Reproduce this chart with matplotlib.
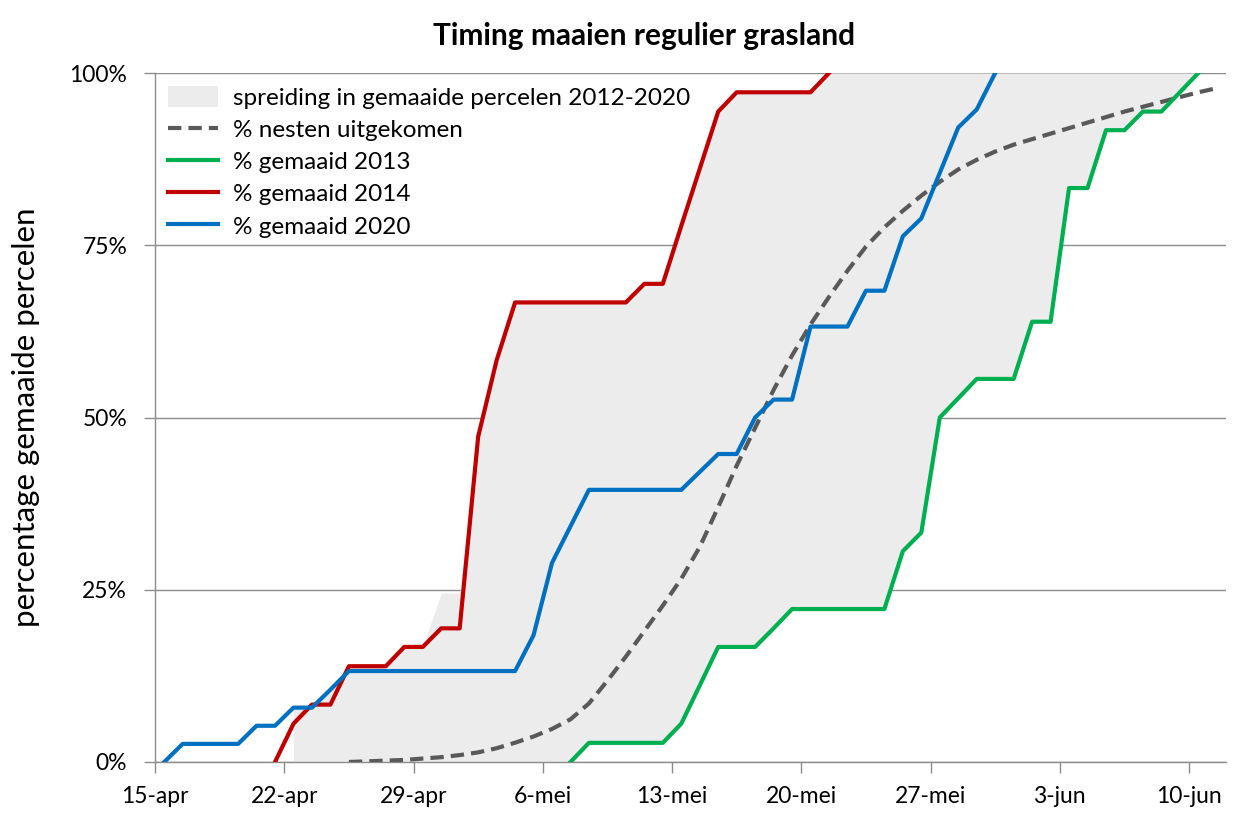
import matplotlib
matplotlib.use("Agg")
import matplotlib.pyplot as plt
import numpy as np
from matplotlib.patches import Patch
from matplotlib.lines import Line2D

plt.rcParams['font.family'] = ['Lato', 'DejaVu Sans']

# ---- data (day index k = days since 15-apr) ----
tick_days = [0, 7, 14, 21, 28, 35, 42, 49, 56]
tick_labels = ["15-apr", "22-apr", "29-apr", "6-mei", "13-mei", "20-mei", "27-mei", "3-jun", "10-jun"]

nest_days = list(range(10, 58))
nest_pct = [0, 0.1, 0.2, 0.3, 0.5, 0.7, 1.0, 1.4, 2.0, 2.8, 3.7, 4.8, 6.2, 8.5, 11.8, 15.3,
            19.0, 22.7, 26.6, 31.2, 37.0, 43.0, 48.5, 54.0, 59.0, 63.5, 67.5, 71.3, 74.8,
            77.6, 80.0, 82.2, 84.2, 86.0, 87.4, 88.6, 89.6, 90.4, 91.2, 92.0, 92.8, 93.6,
            94.4, 95.1, 95.8, 96.5, 97.2, 97.8]

g2013_days = list(range(22, 57))
g2013_pct = [0, 2.78, 2.78, 2.78, 2.78, 2.78, 5.56, 11.1, 16.7, 16.7, 16.7, 19.4, 22.2,
             22.2, 22.2, 22.2, 22.2, 22.2, 30.6, 33.3, 50.0, 52.8, 55.6, 55.6, 55.6, 63.9,
             63.9, 83.3, 83.3, 91.7, 91.7, 94.4, 94.4, 97.2, 100.0]

g2014_days = list(range(6, 37))
g2014_pct = [0, 5.56, 8.33, 8.33, 13.9, 13.9, 13.9, 16.7, 16.7, 19.4, 19.4, 47.2, 58.3,
             66.7, 66.7, 66.7, 66.7, 66.7, 66.7, 66.7, 69.4, 69.4, 77.8, 86.1, 94.4, 97.2,
             97.2, 97.2, 97.2, 97.2, 100.0]

g2020_days = list(range(0, 46))
g2020_pct = [0, 2.63, 2.63, 2.63, 2.63, 5.26, 5.26, 7.89, 7.89, 10.5, 13.2, 13.2, 13.2,
             13.2, 13.2, 13.2, 13.2, 13.2, 13.2, 13.2, 18.4, 28.9, 34.2, 39.5, 39.5, 39.5,
             39.5, 39.5, 39.5, 42.1, 44.7, 44.7, 50.0, 52.6, 52.6, 63.2, 63.2, 63.2, 68.4,
             68.4, 76.3, 78.9, 85.5, 92.1, 94.7, 100.0]

band_days = list(range(7, 58))
band_upper = [7.9, 8.3, 10.5, 13.9, 13.9, 13.9, 16.7, 16.7, 24.5, 24.5, 47.2, 58.3, 66.7,
              66.7, 66.7, 66.7, 66.7, 66.7, 66.7, 69.4, 69.4, 77.8, 86.1, 94.4, 97.2, 97.2,
              97.2, 97.2, 97.2, 100, 100, 100, 100, 100, 100, 100, 100, 100, 100, 100, 100,
              100, 100, 100, 100, 100, 100, 100, 100, 100, 100]
band_lower = [0, 0, 0, 0, 0, 0, 0, 0, 0, 0, 0, 0, 0, 0, 0, 0,
              2.78, 2.78, 2.78, 2.78, 2.78, 5.56, 11.1, 16.7, 16.7, 16.7, 19.4, 22.2,
              22.2, 22.2, 22.2, 22.2, 22.2, 30.6, 33.3, 50.0, 52.8, 55.6, 55.6, 55.6, 63.9,
              63.9, 83.3, 83.3, 91.7, 91.7, 94.4, 94.4, 97.2, 100.0, 100.0]

labels = ["spreiding in gemaaide percelen 2012-2020", "% nesten uitgekomen",
          "% gemaaid 2013", "% gemaaid 2014", "% gemaaid 2020"]

# ---- styling ----
x_off = 0.5
c_band = "#ececec"
c_nest = "#595959"
c_2013 = "#00b050"
c_2014 = "#c00000"
c_2020 = "#0070c0"
lw = 3.0
dash = (0, (3.2, 1.7))

fig = plt.figure(figsize=(12.56, 8.18), dpi=100)
ax = fig.add_axes([155/1256, 1-762/818, (1226-155)/1256, (762-73)/818])

bd = np.array(band_days) + x_off
ax.fill_between(bd, band_lower, band_upper, color=c_band, lw=0, zorder=1)

ax.plot(np.array(nest_days) + x_off, nest_pct, color=c_nest, lw=lw, ls=dash, zorder=3)
ax.plot(np.array(g2013_days) + x_off, g2013_pct, color=c_2013, lw=lw, zorder=4, solid_joinstyle='round')
ax.plot(np.array(g2014_days) + x_off, g2014_pct, color=c_2014, lw=lw, zorder=4, solid_joinstyle='round')
ax.plot(np.array(g2020_days) + x_off, g2020_pct, color=c_2020, lw=lw, zorder=5, solid_joinstyle='round')

ax.set_xlim(0, 58)
ax.set_ylim(0, 100)
ax.set_yticks([0, 25, 50, 75, 100])
ax.set_yticklabels(["0%", "25%", "50%", "75%", "100%"])
ax.set_xticks(tick_days)
ax.set_xticklabels(tick_labels)
ax.yaxis.grid(True, color="#8c8c8c", lw=1.0, zorder=0)
ax.set_axisbelow(True)
for s in ["top", "right"]:
    ax.spines[s].set_visible(False)
for s in ["left", "bottom"]:
    ax.spines[s].set_color("#8c8c8c")
    ax.spines[s].set_linewidth(1.0)
ax.tick_params(axis="both", colors="#8c8c8c", length=8, width=1.0, labelsize=16.5, labelcolor="black")
ax.tick_params(axis="x", pad=9)
ax.tick_params(axis="y", pad=12)

ax.set_ylabel("percentage gemaaide percelen", fontsize=22.5)
ax.yaxis.set_label_coords((40 - 155) / 1071, 0.5)
fig.text(0.513, 1-36/818, "Timing maaien regulier grasland", ha="center", va="center",
         fontsize=21.5, fontweight="bold")

handles = [Patch(facecolor=c_band, edgecolor="none"),
           Line2D([], [], color=c_nest, lw=lw, ls=dash),
           Line2D([], [], color=c_2013, lw=lw),
           Line2D([], [], color=c_2014, lw=lw),
           Line2D([], [], color=c_2020, lw=lw)]
ax.legend(handles, labels, loc="upper left", bbox_to_anchor=(0.0, 1.0), frameon=False,
          fontsize=17.5, handlelength=2.05, handleheight=0.9, labelspacing=0.4, borderaxespad=0.25,
          handletextpad=0.6, borderpad=0.3)

fig.savefig("out.png", dpi=100, facecolor="white")
